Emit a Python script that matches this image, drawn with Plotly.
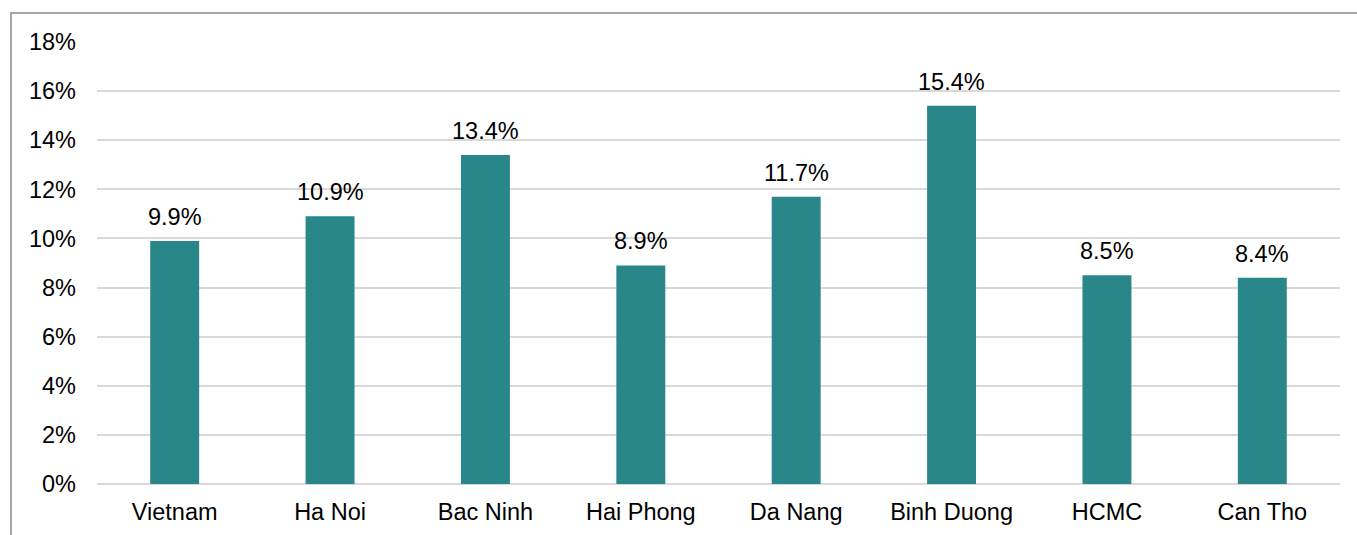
import plotly.graph_objects as go

regions = ["Vietnam", "Ha Noi", "Bac Ninh", "Hai Phong", "Da Nang", "Binh Duong", "HCMC", "Can Tho"]
rates = [0.099, 0.109, 0.134, 0.089, 0.117, 0.154, 0.085, 0.084]
y_ticks = [0, 0.02, 0.04, 0.06, 0.08, 0.10, 0.12, 0.14, 0.16, 0.18]

FONT = "Liberation Sans, Arial, sans-serif"
SIZE = 23.5

fig = go.Figure(
    go.Bar(
        x=regions,
        y=rates,
        marker=dict(color="#29878a", line=dict(width=0)),
        width=0.315,
    )
)

# value labels above each bar
for name, v in zip(regions, rates):
    fig.add_annotation(
        x=name,
        y=v,
        text=f"{v*100:.1f}%",
        showarrow=False,
        yanchor="bottom",
        yshift=9,
        font=dict(family=FONT, size=SIZE, color="#000000"),
    )

fig.update_layout(
    width=1357,
    height=535,
    margin=dict(l=97, r=17, t=42, b=51, autoexpand=False),
    paper_bgcolor="white",
    plot_bgcolor="white",
    showlegend=False,
    font=dict(family=FONT, size=SIZE, color="#000000"),
    xaxis=dict(
        showgrid=False,
        showline=False,
        ticks="",
        automargin=False,
        ticklabelstandoff=11,
        tickfont=dict(size=SIZE),
    ),
    yaxis=dict(
        range=[0, 0.18],
        tickvals=y_ticks,
        tickformat=".0%",
        showgrid=True,
        gridcolor="#d9d9d9",
        gridwidth=1.5,
        zeroline=True,
        zerolinecolor="#d9d9d9",
        zerolinewidth=1.5,
        showline=False,
        ticks="",
        automargin=False,
        ticklabelstandoff=20,
        tickfont=dict(size=SIZE),
    ),
    shapes=[
        dict(
            type="rect",
            xref="paper",
            yref="paper",
            x0=-0.0692,
            x1=1.2,
            y0=-0.5,
            y1=1.0656,
            line=dict(color="#a6a6a6", width=2),
            fillcolor="rgba(0,0,0,0)",
            layer="below",
        )
    ],
)

fig.write_html("out.html")
